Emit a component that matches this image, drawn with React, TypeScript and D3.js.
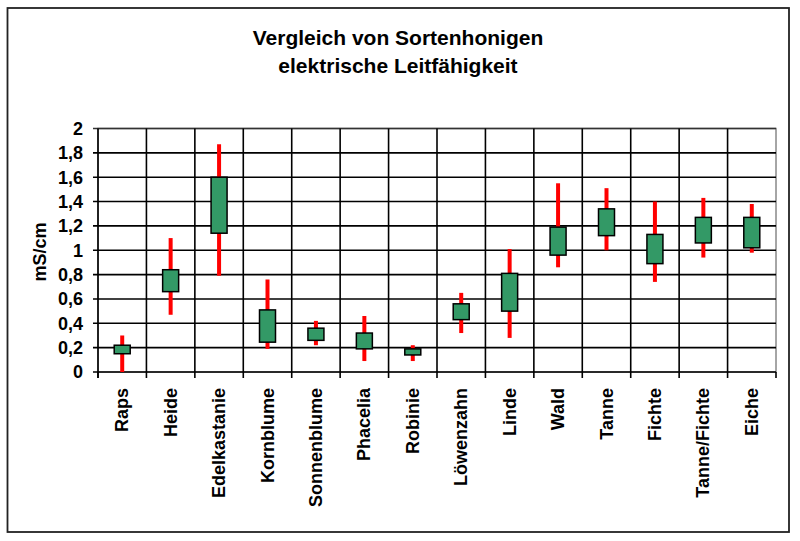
import React from 'react'
import * as d3 from 'd3'

// Sortenhonige, elektrische Leitfähigkeit in mS/cm
const categories = ['Raps', 'Heide', 'Edelkastanie', 'Kornblume', 'Sonnenblume', 'Phacelia', 'Robinie',
  'Löwenzahn', 'Linde', 'Wald', 'Tanne', 'Fichte', 'Tanne/Fichte', 'Eiche']
const lowValues = [0, 0.47, 0.79, 0.19, 0.22, 0.09, 0.09, 0.32, 0.28, 0.86, 1.0, 0.74, 0.94, 0.98]
const highValues = [0.3, 1.1, 1.87, 0.76, 0.42, 0.46, 0.22, 0.65, 1.01, 1.55, 1.51, 1.4, 1.43, 1.38]
const boxLow = [0.15, 0.66, 1.14, 0.245, 0.26, 0.19, 0.14, 0.43, 0.5, 0.96, 1.12, 0.89, 1.06, 1.02]
const boxHigh = [0.22, 0.84, 1.6, 0.51, 0.36, 0.32, 0.19, 0.56, 0.81, 1.19, 1.34, 1.13, 1.27, 1.27]
const yTicks = [0, 0.2, 0.4, 0.6, 0.8, 1, 1.2, 1.4, 1.6, 1.8, 2]

const W = 800
const H = 541
const plot = {left: 98, right: 776, top: 128.5, bottom: 372}
const font = '"Liberation Sans", Arial, sans-serif'

const fmt = (v: number) => d3.format('.1~f')(v).replace('.', ',')

export default function App() {
  const x = d3.scaleBand<string>().domain(categories).range([plot.left, plot.right]).padding(0)
  const y = d3.scaleLinear().domain([0, 2]).range([plot.bottom, plot.top])
  const bw = x.bandwidth()
  const boxWidth = 16

  const bounds = categories.map(c => x(c) as number).concat([plot.right])

  return (
    <svg width={W} height={H} style={{position: 'absolute', left: 0, top: 0, background: '#fff'}}>
      <rect x={7.5} y={8} width={781.5} height={524} fill="#fff" stroke="#222" strokeWidth={1.8} />

      <g fontFamily={font} fontWeight="bold" fontSize={21} textAnchor="middle" fill="#000">
        <text x={398} y={45}>Vergleich von Sortenhonigen</text>
        <text x={398} y={72.5}>elektrische Leitfähigkeit</text>
      </g>

      {/* plot area border */}
      <rect x={plot.left} y={plot.top} width={plot.right - plot.left} height={plot.bottom - plot.top}
        fill="#fff" stroke="#888" strokeWidth={1.5} />

      {/* horizontal gridlines */}
      {yTicks.map(t => (
        <line key={'h' + t} x1={plot.left - 5} x2={t === 2 ? plot.right : plot.right}
          y1={y(t)} y2={y(t)} stroke={t === 2 ? '#333' : '#000'} strokeWidth={1.6} />
      ))}

      {/* vertical gridlines and ticks */}
      {bounds.map((b, i) => (
        <g key={'v' + i}>
          {i > 0 && i < bounds.length - 1 &&
            <line x1={b} x2={b} y1={plot.top} y2={plot.bottom} stroke="#000" strokeWidth={1.6} />}
          <line x1={b} x2={b} y1={plot.bottom} y2={plot.bottom + 6} stroke="#000" strokeWidth={1.6} />
        </g>
      ))}
      <line x1={plot.left} x2={plot.left} y1={plot.top} y2={plot.bottom + 6} stroke="#000" strokeWidth={1.6} />

      {/* y tick labels */}
      <g fontFamily={font} fontWeight="bold" fontSize={18} textAnchor="end" fill="#000">
        {yTicks.map(t => (
          <text key={'yl' + t} x={83} y={y(t)} dy="0.36em">{fmt(t)}</text>
        ))}
      </g>
      <text transform={`translate(46,252) rotate(-90)`} textAnchor="middle" fontFamily={font}
        fontWeight="bold" fontSize={18}>mS/cm</text>

      {/* high-low lines and boxes */}
      {categories.map((c, i) => {
        const cx = (x(c) as number) + bw / 2
        return (
          <g key={c}>
            <line x1={cx} x2={cx} y1={y(lowValues[i])} y2={y(highValues[i])} stroke="#ff0000" strokeWidth={4} />
            <rect x={cx - boxWidth / 2} y={y(boxHigh[i])} width={boxWidth}
              height={y(boxLow[i]) - y(boxHigh[i])} fill="#339966" stroke="#000" strokeWidth={1.5} />
          </g>
        )
      })}

      {/* x labels */}
      <g fontFamily={font} fontWeight="bold" fontSize={18} textAnchor="end" fill="#000">
        {categories.map(c => (
          <text key={'xl' + c} transform={`translate(${(x(c) as number) + bw / 2 + 6},388) rotate(-90)`}>{c}</text>
        ))}
      </g>
    </svg>
  )
}
